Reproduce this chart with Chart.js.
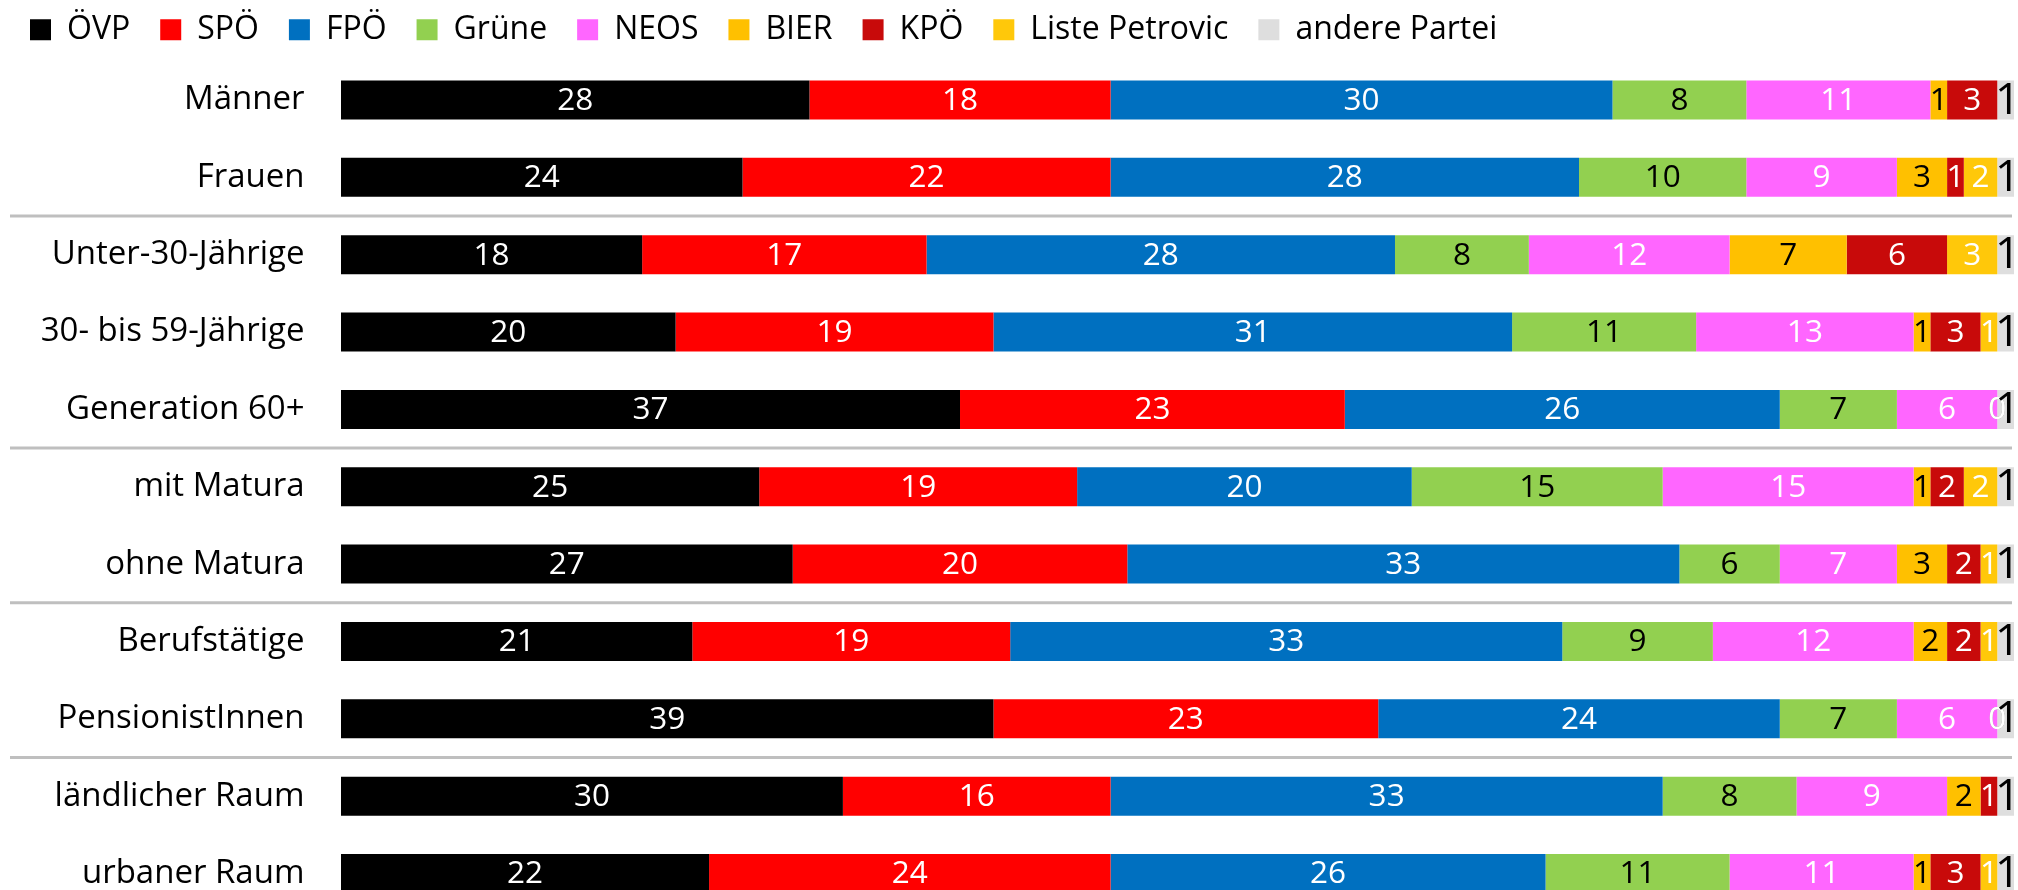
<!DOCTYPE html>
<html><head><meta charset="utf-8">
<script src="https://cdn.jsdelivr.net/npm/chart.js@4.4.0/dist/chart.umd.min.js"></script>
<style>
html,body{margin:0;padding:0;overflow:hidden;background:#fff}
#c{display:block;width:2018px;height:972px}
</style>
</head><body>
<canvas id="c" width="2018" height="972"></canvas>
<script>
const categories = ['Männer','Frauen','Unter-30-Jährige','30- bis 59-Jährige','Generation 60+','mit Matura','ohne Matura','Berufstätige','PensionistInnen','ländlicher Raum','urbaner Raum'];
const parties = ['ÖVP','SPÖ','FPÖ','Grüne','NEOS','BIER','KPÖ','Liste Petrovic','andere Partei'];
const oevp     = [28,24,18,20,37,25,27,21,39,30,22];
const spoe     = [18,22,17,19,23,19,20,19,23,16,24];
const fpoe     = [30,28,28,31,26,20,33,33,24,33,26];
const gruene   = [8,10,8,11,7,15,6,9,7,8,11];
const neos     = [11,9,12,13,6,15,7,12,6,9,11];
const bier     = [1,3,7,1,0,1,3,2,0,2,1];
const kpoe     = [3,1,6,3,0,2,2,2,0,1,3];
const petrovic = [null,2,3,1,0,2,1,1,0,null,1];
const andere   = [1,1,1,1,1,1,1,1,1,1,1];
const groupBreaks = [1,4,6,8];

const seriesValues = [oevp,spoe,fpoe,gruene,neos,bier,kpoe,petrovic,andere];
const barColors = ['#000000','#FF0000','#0070C0','#92D050','#FF66FF','#FFC000','#C80A0A','#FFC80A','#DEDEDE'];
const labelColors = ['#FFFFFF','#FFFFFF','#FFFFFF','#000000','#FFFFFF','#000000','#FFFFFF','#FFFFFF','#000000'];
const labelSizes = [31.5,31.5,31.5,31.5,31.5,31.5,31.5,31.5,44];
const FONT = '"Open Sans", "Noto Sans", sans-serif';

Chart.defaults.color = '#000';
Chart.defaults.font.family = FONT;

const valueLabels = {
  id: 'valueLabels',
  afterDatasetsDraw(chart) {
    const ctx = chart.ctx;
    ctx.save();
    ctx.textAlign = 'center';
    ctx.textBaseline = 'middle';
    chart.data.datasets.forEach((ds, di) => {
      const meta = chart.getDatasetMeta(di);
      ctx.font = labelSizes[di] + 'px ' + FONT;
      meta.data.forEach((bar, i) => {
        const v = ds.data[i];
        if (v === null || v === undefined) return;
        const p = bar.getProps(['x','y','base'], true);
        ctx.fillStyle = labelColors[di];
        ctx.fillText(String(v), (p.x + p.base) / 2 + (di === 8 ? 2 : 0), p.y + 1);
      });
    });
    ctx.restore();
  }
};

const separators = {
  id: 'separators',
  afterDraw(chart) {
    const ctx = chart.ctx;
    const ys = chart.scales.y;
    ctx.save();
    ctx.strokeStyle = '#BFBFBF';
    ctx.lineWidth = 3;
    groupBreaks.forEach(i => {
      const yy = (ys.getPixelForValue(i) + ys.getPixelForValue(i + 1)) / 2;
      ctx.beginPath();
      ctx.moveTo(10, yy);
      ctx.lineTo(2012, yy);
      ctx.stroke();
    });
    ctx.restore();
  }
};

new Chart(document.getElementById('c'), {
  type: 'bar',
  data: {
    labels: categories,
    datasets: parties.map((p, k) => ({
      label: p,
      data: seriesValues[k],
      backgroundColor: barColors[k],
      borderWidth: 0,
      barPercentage: 1,
      categoryPercentage: 0.504
    }))
  },
  options: {
    indexAxis: 'y',
    responsive: false,
    maintainAspectRatio: false,
    animation: false,
    layout: { padding: { top: -16.2, right: 4, bottom: 59.8, left: 0 } },
    plugins: {
      tooltip: { enabled: false },
      legend: {
        position: 'top',
        align: 'start',
        labels: {
          boxWidth: 21,
          boxHeight: 21,
          padding: 30,
          color: '#000',
          font: { size: 32, family: FONT }
        }
      },
      title: {
        display: true,
        text: '',
        weight: 500,
        padding: 0,
        font: { size: 5.5, lineHeight: 1 }
      }
    },
    scales: {
      x: { stacked: true, min: 0, max: 100, display: false },
      y: {
        stacked: true,
        grid: { display: false, drawTicks: false },
        border: { display: false },
        ticks: { padding: 36.5, color: '#000', font: { size: 33, family: FONT } },
        afterFit(scale) { scale.width = 341; }
      }
    }
  },
  plugins: [valueLabels, separators]
});
</script>
</body></html>
